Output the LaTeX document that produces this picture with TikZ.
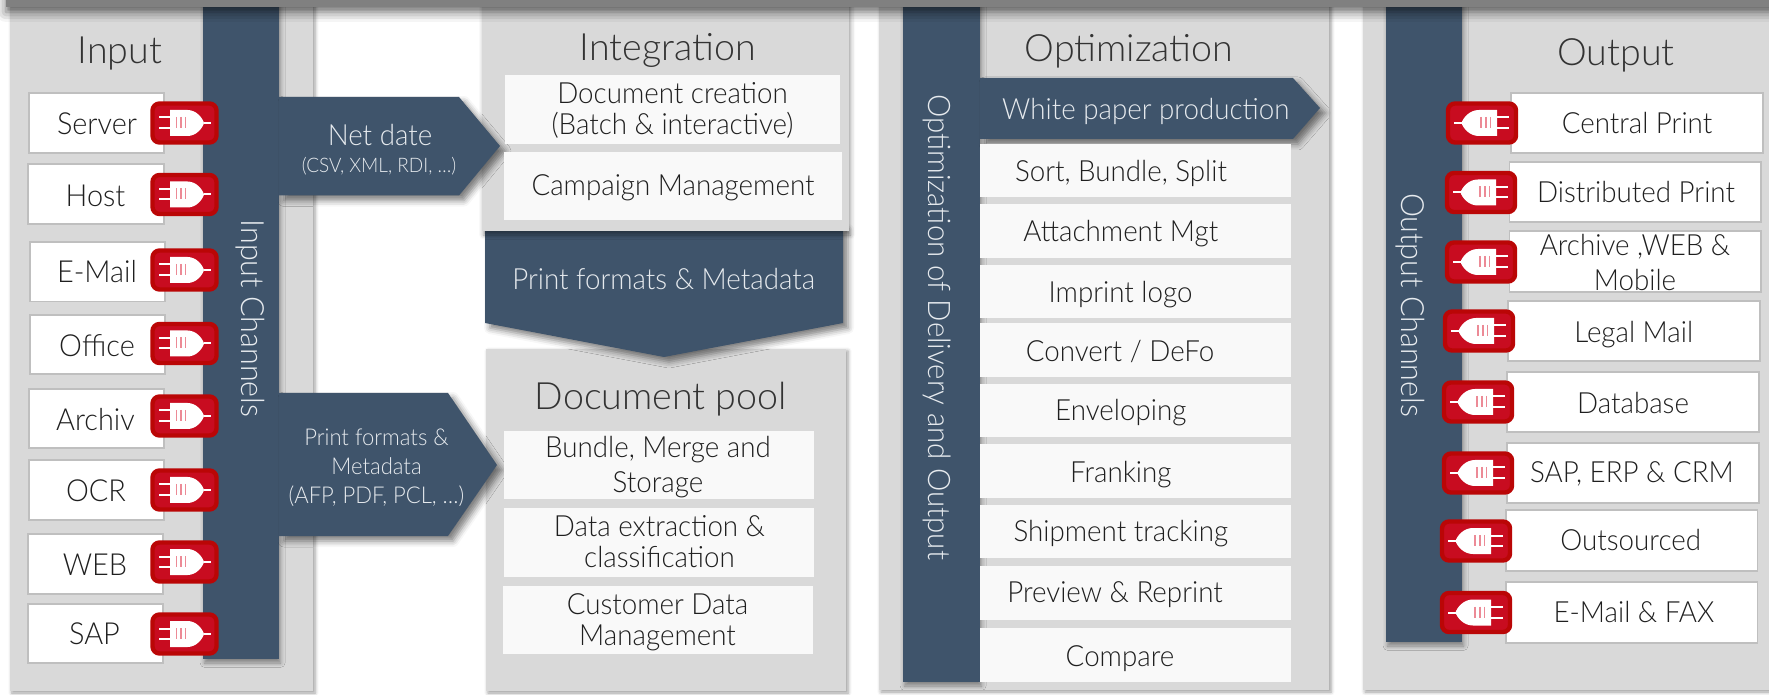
\documentclass[tikz,border=0pt]{standalone}
\usepackage{fontspec}
\setmainfont{Lato}[UprightFont=* Light,BoldFont=* Light,FakeStretch=0.95]
\newfontfamily\headfont{Lato}[UprightFont=* Light]
\usetikzlibrary{positioning,shadows.blur}
\definecolor{panelgray}{HTML}{D9D9D9}
\definecolor{slate}{HTML}{3F546B}
\definecolor{paper}{HTML}{F9F9F9}
\definecolor{plugred}{HTML}{C80C20}
\definecolor{plugdark}{HTML}{BA0606}
\definecolor{plugpink}{HTML}{EC8A96}
\definecolor{inktext}{HTML}{1F1F1F}
\definecolor{paletext}{HTML}{E6EAEE}
\newcommand{\plugicon}{
  \fill[white] (-14.5,-13) -- (3,-13) .. controls (12,-13) and (18,-5) .. (19.5,0)
     .. controls (18,5) and (12,13) .. (3,13) -- (-14.5,13) -- cycle;
  \draw[white,line width=1pt] (19,0) -- (26.5,0) (-25.5,-5.5) -- (-14,-5.5) (-25.5,5) -- (-14,5);
  \draw[plugpink,line width=.9pt] (-8,-6) -- (-8,5) (-3.5,-6) -- (-3.5,5) (1,-6) -- (1,5);
}
\tikzset{
  plugbox/.style={draw=plugdark,fill=plugred,line width=2.2pt,rounded corners=3.5pt},
  plugin/.pic={\draw[plugbox] (-32,-19.5) rectangle (32,19.5); \plugicon},
  plugout/.pic={\draw[plugbox] (-34,-19.5) rectangle (34,19.5);
     \begin{scope}[xscale=-1.05]\plugicon\end{scope}},
  softshadow/.style={blur shadow={shadow xshift=1pt,shadow yshift=-1pt,shadow blur radius=1.8pt,shadow opacity=40}},
  barshadow/.style={blur shadow={shadow xshift=.8pt,shadow yshift=-2pt,shadow blur radius=2.2pt,shadow opacity=40}},
  hardshadow/.style={blur shadow={shadow xshift=2.5pt,shadow yshift=-2.5pt,shadow blur radius=3pt,shadow opacity=50}},
  panel/.style={fill=panelgray,softshadow},
  slatebar/.style={fill=slate,barshadow},
  slatearrow/.style={fill=slate,hardshadow},
  whitebox/.style={draw=black!25,line width=.8pt,fill=white},
  paperbox/.style={fill=paper},
  lbl/.style={anchor=base,inner sep=0pt,yshift=-.6pt,text=inktext,font=\fontsize{14.6}{15.5}\selectfont},
  srclbl/.style={lbl,font=\fontsize{15.2}{17}\selectfont},
  head/.style={lbl,text=black!80,font=\headfont\fontsize{18.8}{22}\selectfont},
  palelbl/.style={lbl,text=paletext},
  sidelbl/.style={palelbl,yshift=.6pt,rotate=-90},
}
\begin{document}
\begin{tikzpicture}[x=0.5pt,y=-0.5pt]
 \useasboundingbox (0,0) rectangle (1769,695);

 % panels
 \fill[panel] (10,-20) rectangle (313,691);
 \fill[panel] (486,349) rectangle (846,691);
 \fill[panel] (879,-20) rectangle (1329,690);
 \fill[panel] (1363,-20) rectangle (1800,690);

 % arrow between the two middle panels
 \fill[slatearrow] (485,225) -- (843,225) -- (843,323) -- (664,357) -- (485,323) -- cycle;
 \fill[fill=panelgray,barshadow] (482,-20) rectangle (849,231);

 % vertical bars
 \fill[slatebar] (203,-20) rectangle (279,659);
 \fill[slatebar] (903,-20) rectangle (980,682);
 \fill[slatebar] (1386,-20) rectangle (1462,642);

 % arrows out of the bars
 \fill[slatearrow] (279,97) -- (459,97) -- (500,146) -- (459,195.5) -- (279,195.5) -- cycle;
 \fill[slatearrow] (279,393) -- (448,393) -- (497,465) -- (448,536) -- (279,536) -- cycle;
 \fill[slatearrow] (980,78) -- (1293,78) -- (1320,108) -- (1293,139) -- (980,139) -- cycle;

 % input sources
 \foreach \xa/\ya/\xb/\yb/\lx/\ly/\py/\nm/\lab in {
   29/93/164/153/97/133.5/123/server/Server,
   28/164/164/224/95.5/205/194.5/host/Host,
   30/242/165/301.5/97/281.7/270/email/E-Mail,
   30/315/165/374/97/355/343.5/office/Office,
   29/389/164/448/95.5/429/416/archiv/Archiv,
   29/460/164/520/96/500/490/ocr/OCR,
   28/534/163/594/95/574/562/web/WEB,
   28/604/163/663/94.5/643/634/sap/SAP}
 {\draw[whitebox] (\xa,\ya) rectangle (\xb,\yb);
  \node[srclbl] (\nm) at (\lx,\ly) {\lab};
  \pic (plug\nm) at (184.5,\py) {plugin};}

 % output targets
 \foreach \xa/\ya/\xb/\yb/\lx/\ly/\px/\py/\nm/\lab in {
   1511/93/1763/153/1637/132.7/1482/123/central/Central Print,
   1509.5/162/1761/222/1636/201.7/1481/192.5/distributed/Distributed Print,
   1508/301/1760/361/1633.7/341/1479/331/legal/Legal Mail,
   1507/372/1759/432/1633/412/1478/402/database/Database,
   1507/443/1759/503/1632/481.7/1478/473/erp/{SAP, ERP \& CRM},
   1506/510/1757.5/571/1630.7/549/1476/541/outsourced/Outsourced,
   1506/582/1757.5/643/1634/621/1476/612.5/emailfax/E-Mail \& FAX}
 {\draw[whitebox] (\xa,\ya) rectangle (\xb,\yb);
  \node[lbl] (\nm) at (\lx,\ly) {\lab};
  \pic (plug\nm) at (\px,\py) {plugout};}
 \draw[whitebox] (1509.5,231) rectangle (1761,292);
 \node[lbl,align=center] (archive) at (1635,289) {Archive ,WEB \&\\[2pt]Mobile};
 \pic (plugarchive) at (1481,262) {plugout};

 % integration and pool entries
 \fill[paperbox] (505,75) rectangle (840,144);
 \fill[paperbox] (504,152) rectangle (842,220);
 \fill[paperbox] (504,431) rectangle (814,499);
 \fill[paperbox] (504,508) rectangle (814,577);
 \fill[paperbox] (503,586) rectangle (813,654);
 \node[lbl,align=center] (creation) at (672.5,133) {Document creation\\(Batch \& interactive)};
 \node[lbl] (campaign) at (673,194) {Campaign Management};
 \node[lbl,align=center] (bundle) at (658,491.7) {Bundle, Merge and\\[2pt]Storage};
 \node[lbl,align=center] (extraction) at (659.5,566.7) {Data extraction \&\\classification};
 \node[lbl,align=center] (customer) at (657.5,644.3) {Customer Data\\Management};

 % optimization steps
 \foreach \ya/\yb/\lx/\ly/\nm/\lab in {
   144/197/1121/180/sort/{Sort, Bundle, Split},
   204/258/1120.8/240.7/attachment/Attachment Mgt,
   265/318/1120.5/301/imprint/Imprint logo,
   323/377/1120/360/convert/{Convert / DeFo},
   384/437/1120.8/419/enveloping/Enveloping,
   444/498/1120.8/481/franking/Franking,
   505/558/1120.8/540.7/shipment/Shipment tracking,
   566/620/1115/601.7/preview/Preview \& Reprint,
   628/682/1120/665/compare/Compare}
 {\fill[paperbox] (980,\ya) rectangle (1291,\yb);
  \node[lbl] (\nm) at (\lx,\ly) {\lab};}

 % headings
 \node[head] (input) at (120,62) {Input};
 \node[head] (integration) at (667.7,59) {Integration};
 \node[head] (pool) at (660.8,408) {Document pool};
 \node[head] (optimization) at (1129,60) {Optimization};
 \node[head] (output) at (1616,64) {Output};

 % texts on the dark shapes
 \node[sidelbl,font=\fontsize{16}{18}\selectfont] (inchannels) at (241,318.5) {Input Channels};
 \node[sidelbl,font=\fontsize{15.5}{18}\selectfont] (delivery) at (928,327) {Optimization of Delivery and Output};
 \node[sidelbl,font=\fontsize{16}{18}\selectfont] (outchannels) at (1401.7,305) {Output Channels};
 \node[palelbl] (netdate) at (380,144) {Net date};
 \node[palelbl,font=\fontsize{10}{12}\selectfont] (netformats) at (379,171.7) {(CSV, XML, RDI, \dots)};
 \node[palelbl,align=center,font=\fontsize{11.6}{14.5}\selectfont] (printformats) at (376.5,502) {Print formats \&\\Metadata\\(AFP, PDF, PCL, \dots)};
 \node[palelbl] (metadata) at (663.7,288) {Print formats \& Metadata};
 \node[palelbl] (whitepaper) at (1145.8,118) {White paper production};

 % top bar
 \fill[fill=black!50,blur shadow={shadow xshift=0pt,shadow yshift=-2.5pt,shadow blur radius=5pt,shadow opacity=60}] (6,-30) rectangle (1800,7);
\end{tikzpicture}
\end{document}
